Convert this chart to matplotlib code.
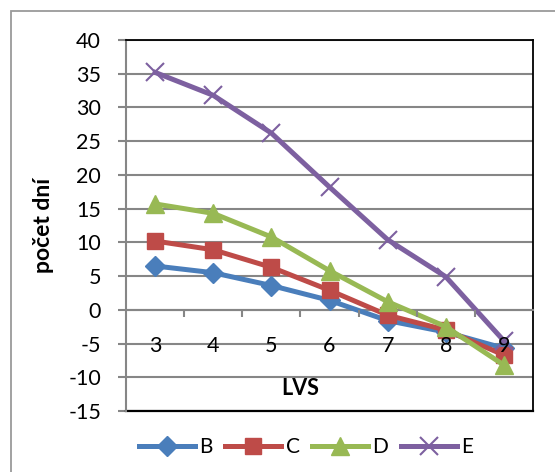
import matplotlib
matplotlib.use("Agg")
import matplotlib.pyplot as plt
from matplotlib.patches import Rectangle
from matplotlib.ticker import MultipleLocator, FixedLocator

plt.rcParams['font.family'] = ['Lato', 'DejaVu Sans']
plt.rcParams['axes.unicode_minus'] = False

lvs = [3, 4, 5, 6, 7, 8, 9]
series_names = ["B", "C", "D", "E"]
B = [6.5, 5.5, 3.6, 1.4, -1.6, -3.3, -5.7]
C = [10.2, 8.9, 6.3, 2.9, -0.8, -3.0, -6.7]
D = [15.7, 14.3, 10.8, 5.8, 1.2, -2.5, -8.2]
E = [35.2, 31.8, 26.2, 18.2, 10.4, 4.9, -4.6]
values = [B, C, D, E]
colors = ["#4A7EBB", "#BE4B48", "#98B954", "#7D60A0"]
markers = ["D", "s", "^", "x"]
msizes = [10, 11, 13, 13]
ylabel = "počet dní"
xlabel = "LVS"

fig = plt.figure(figsize=(5.55, 4.72), dpi=100)
ax = fig.add_axes([126/555, 1-411/472, 407/555, 371/472])

grid_c = "#868686"
ax.set_xlim(2.5, 9.5)
ax.set_ylim(-15, 40)
ax.yaxis.set_major_locator(MultipleLocator(5))
ax.grid(axis='y', color=grid_c, lw=1.5, zorder=0)
ax.set_axisbelow(True)

lines = []
for name, vals, c, m, ms in zip(series_names, values, colors, markers, msizes):
    ln, = ax.plot(lvs, vals, color=c, lw=3.6, marker=m, markersize=ms,
                  markeredgewidth=1.5 if m == "x" else 1, markeredgecolor=c,
                  label=name, zorder=3, clip_on=False)
    lines.append(ln)

# spines
for s in ['top', 'right']:
    ax.spines[s].set_color('black')
    ax.spines[s].set_linewidth(1.3)
ax.spines['left'].set_color(grid_c)
ax.spines['left'].set_linewidth(1.5)
ax.spines['bottom'].set_position(('data', 0))
ax.spines['bottom'].set_color(grid_c)
ax.spines['bottom'].set_linewidth(1.5)
ax.plot([0, 1], [0, 0], transform=ax.transAxes, color='black', lw=1.6,
        clip_on=False, zorder=2)

ax.set_xticks(lvs)
ax.xaxis.set_minor_locator(FixedLocator([3.5, 4.5, 5.5, 6.5, 7.5, 8.5]))
ax.tick_params(axis='x', which='major', length=0, pad=19, labelsize=15.5)
ax.tick_params(axis='x', which='minor', length=5, width=1.5, color=grid_c, direction='out')
ax.tick_params(axis='y', which='major', length=6, width=1.5, color=grid_c,
               direction='out', pad=12, labelsize=15.5)
ax.xaxis.set_zorder(5)

ax.set_ylabel(ylabel, fontsize=16.5, fontweight='bold')
ax.yaxis.set_label_coords(-0.178, 0.5)
ax.set_xlabel(xlabel, fontsize=15.5, fontweight='bold')
ax.xaxis.set_label_coords(0.427, 0.09)

fig.legend(handles=lines, loc='center', bbox_to_anchor=(306/555, 1-447/472),
           ncol=4, frameon=False, fontsize=15, handlelength=2.7,
           handletextpad=0.2, columnspacing=0.6)

fig.patches.append(Rectangle((11/555, -0.1), 1.0, 1.1 - 11/472, transform=fig.transFigure,
                             fill=False, edgecolor='#9a9a9a', lw=1.3, zorder=0))

fig.savefig("out.png", dpi=100)
